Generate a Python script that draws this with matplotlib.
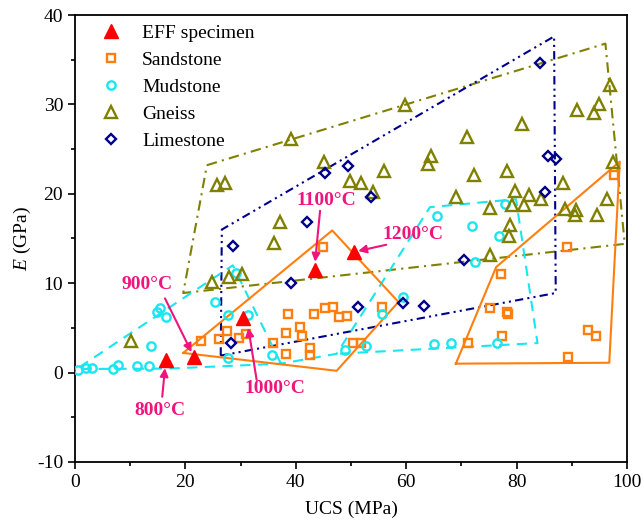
import matplotlib
matplotlib.use('Agg')
import matplotlib.pyplot as plt
from matplotlib.ticker import MultipleLocator

plt.rcParams['font.family'] = 'Liberation Serif'
plt.rcParams['mathtext.fontset'] = 'custom'
plt.rcParams['mathtext.rm'] = 'Liberation Serif'
plt.rcParams['mathtext.it'] = 'Liberation Serif:italic'
plt.rcParams['axes.unicode_minus'] = False

# EFF specimens after heating
eff_ucs = [16.5, 21.6, 30.4, 43.4, 50.5]
eff_e = [1.4, 1.7, 6.1, 11.5, 13.5]
eff_temp = ['800°C', '900°C', '1000°C', '1100°C', '1200°C']

# literature data by rock type (UCS in MPa, E in GPa)
sand_ucs = [45.0, 43.3, 45.3, 46.7, 47.9, 49.3, 55.6, 40.8, 41.2, 42.5, 42.5, 50.3, 51.8,
            75.1, 78.2, 78.5, 77.1, 77.4, 71.2, 89.1, 97.6, 89.4, 93.0, 94.4,
            38.6, 38.2, 35.9, 38.2, 27.5, 26.1, 29.8, 31.0, 22.8]
sand_e = [14.0, 6.5, 7.2, 7.3, 6.2, 6.3, 7.3, 5.1, 4.1, 2.7, 2.0, 3.3, 3.3,
          7.2, 6.8, 6.5, 11.0, 4.1, 3.3, 14.0, 22.1, 1.7, 4.8, 4.1,
          6.6, 4.4, 3.3, 2.1, 4.7, 3.8, 3.9, 4.3, 3.5]

mud_ucs = [0.6, 2.0, 3.1, 6.8, 7.7, 11.2, 13.4, 13.8, 14.8, 15.4, 16.5, 25.4, 27.7, 31.4,
           27.7, 29.1, 35.6, 48.9, 52.7, 55.7, 59.4, 65.0, 68.2, 76.4, 65.5, 71.9,
           76.9, 77.9, 72.4]
mud_e = [0.3, 0.5, 0.5, 0.4, 0.8, 0.7, 0.7, 3.0, 6.8, 7.2, 6.2, 7.9, 6.4, 6.4,
         1.6, 11.1, 2.0, 2.5, 3.0, 6.6, 8.5, 3.2, 3.3, 3.3, 17.5, 16.4,
         15.3, 18.9, 12.4]

gneiss_ucs = [39.1, 59.8, 45.1, 64.5, 64.0, 96.9, 95.0, 94.1, 91.0, 81.0, 71.1, 97.5,
              72.2, 78.2, 69.1, 75.2, 79.7, 82.3, 81.3, 79.1, 84.5, 88.5, 88.8, 90.8,
              90.6, 94.6, 96.3, 78.9, 78.6, 75.1, 49.9, 51.9, 54.0, 56.0, 37.1, 36.0,
              25.8, 27.2, 24.8, 27.9, 30.2, 10.1]
gneiss_e = [26.1, 29.9, 23.6, 24.2, 23.3, 32.2, 30.1, 29.0, 29.4, 27.8, 26.3, 23.6,
            22.1, 22.6, 19.6, 18.4, 20.3, 19.9, 18.7, 18.7, 19.4, 21.2, 18.3, 18.2,
            17.6, 17.6, 19.4, 16.5, 15.3, 13.2, 21.4, 21.2, 20.2, 22.5, 16.8, 14.5,
            21.0, 21.2, 10.1, 10.7, 11.0, 3.5]

lime_ucs = [84.2, 85.7, 87.1, 85.2, 70.4, 49.5, 45.3, 53.6, 42.1, 39.1, 59.4, 63.2,
            51.3, 28.7, 28.3]
lime_e = [34.6, 24.2, 23.9, 20.2, 12.6, 23.1, 22.3, 19.6, 16.8, 10.0, 7.8, 7.5,
          7.3, 14.2, 3.3]

# envelopes drawn around each group
sand_env1_x = [19.6, 46.6, 58.6, 47.4, 19.6]
sand_env1_y = [2.2, 15.9, 7.9, 0.2, 2.2]
sand_env2_x = [69.0, 96.8, 98.7, 76.3, 69.0]
sand_env2_y = [1.0, 1.1, 23.6, 11.8, 1.0]
mud_env_x = [37.3, 28.6, 0.3, 17.0, 37.3, 47.4, 64.3, 79.9, 83.8, 47.4]
mud_env_y = [1.0, 12.0, 0.4, 0.45, 1.0, 2.1, 18.5, 19.4, 3.3, 2.1]
gneiss_env_x = [23.9, 96.1, 99.6, 19.6, 23.9]
gneiss_env_y = [23.2, 36.8, 14.4, 8.9, 23.2]
lime_env_x = [26.4, 26.6, 86.8, 87.1, 26.4]
lime_env_y = [1.9, 16.0, 37.6, 8.9, 1.9]

c_sand = '#ff7f0e'
c_mud = '#19e6ef'
c_gneiss = '#808000'
c_lime = '#00008b'
c_pink = '#f0147c'

fig = plt.figure(figsize=(6.44, 5.32), dpi=100)
ax = fig.add_axes([0.1165, 0.1316, 0.857, 0.8402])

ax.plot(gneiss_env_x, gneiss_env_y, color=c_gneiss, lw=1.5, ls=(0, (5, 2.5, 1, 2.5)), zorder=2)
ax.plot(lime_env_x, lime_env_y, color=c_lime, lw=1.5, ls=(0, (4, 2, 1, 2, 1, 2)), zorder=2)
ax.plot(mud_env_x, mud_env_y, color=c_mud, lw=1.5, ls=(0, (5, 3.5)), zorder=2)
ax.plot(sand_env1_x, sand_env1_y, color=c_sand, lw=1.5, zorder=2)
ax.plot(sand_env2_x, sand_env2_y, color=c_sand, lw=1.5, zorder=2)

mw = 1.7
h_eff, = ax.plot(eff_ucs, eff_e, ls='none', marker='^', ms=10, color='red', zorder=5,
                 label='EFF specimen')
h_sand, = ax.plot(sand_ucs, sand_e, ls='none', marker='s', ms=5.5, mfc='none', mec=c_sand,
                  mew=mw, zorder=3, label='Sandstone')
h_mud, = ax.plot(mud_ucs, mud_e, ls='none', marker='o', ms=6, mfc='none', mec=c_mud,
                 mew=mw, zorder=3, label='Mudstone')
h_gn, = ax.plot(gneiss_ucs, gneiss_e, ls='none', marker='^', ms=8, mfc='none', mec=c_gneiss,
                mew=mw, zorder=3, label='Gneiss')
h_li, = ax.plot(lime_ucs, lime_e, ls='none', marker='D', ms=5.5, mfc='none', mec=c_lime,
                mew=mw, zorder=3, label='Limestone')

# temperature labels with arrows
txt_pos = [(15.4, -4.2), (13.0, 9.8), (36.2, -1.8), (45.6, 19.2), (61.3, 15.4)]
arrow_from = [(15.8, -2.7), (16.3, 8.3), (32.9, -0.8), (44.4, 18.1), (56.4, 14.3)]
arrow_to = [(16.3, 0.5), (21.1, 2.3), (31.4, 5.0), (43.5, 12.4), (51.3, 13.6)]
for t, p, a, b in zip(eff_temp, txt_pos, arrow_from, arrow_to):
    ax.text(p[0], p[1], t, color=c_pink, fontsize=14, fontweight='bold',
            ha='center', va='center', zorder=6)
    ax.annotate('', xy=b, xytext=a,
                arrowprops=dict(arrowstyle='-|>', color=c_pink, lw=1.5,
                                shrinkA=0, shrinkB=0, mutation_scale=12), zorder=6)

ax.set_xlim(0, 100)
ax.set_ylim(-10, 40)
ax.xaxis.set_major_locator(MultipleLocator(20))
ax.xaxis.set_minor_locator(MultipleLocator(10))
ax.yaxis.set_major_locator(MultipleLocator(10))
ax.yaxis.set_minor_locator(MultipleLocator(5))
ax.tick_params(which='both', direction='out', width=1.2, labelsize=14, top=False, right=False)
ax.tick_params(which='major', length=5)
ax.tick_params(which='minor', length=3)
for s in ax.spines.values():
    s.set_linewidth(1.3)

ax.set_xlabel('UCS (MPa)', fontsize=14, labelpad=7)
ax.set_ylabel('$\\it{E}$ (GPa)', fontsize=14, labelpad=3)

ax.legend(handles=[h_eff, h_sand, h_mud, h_gn, h_li], loc='upper left', frameon=False,
          fontsize=14, handletextpad=0.6, labelspacing=0.48, borderaxespad=0.3,
          bbox_to_anchor=(0.005, 1.01))

plt.savefig('out.png', dpi=100)
